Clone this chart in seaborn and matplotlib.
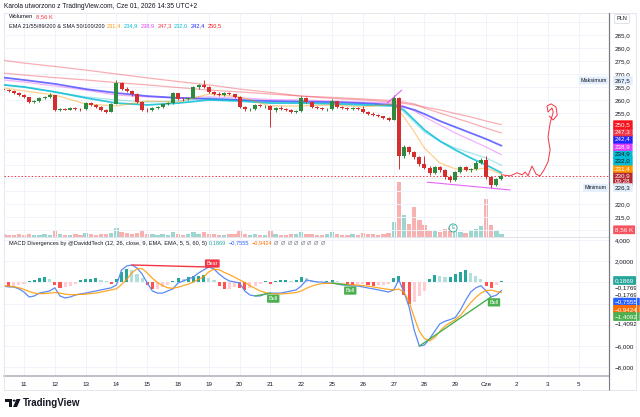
import numpy as np
import matplotlib
matplotlib.use("Agg")
import matplotlib.pyplot as plt
from matplotlib.patches import Polygon, Circle, Rectangle
import seaborn as sns

# ---- values ----
# six bars per session, the first four bars belong to the 10th
opens = [
    264.2, 263.8, 263.5, 262.7,
    261.9, 261.0, 259.2, 259.6, 260.8, 261.2,
    261.9, 256.2, 256.5, 256.3, 256.9, 256.6,
    256.4, 259.0, 258.0, 257.2, 256.0, 255.4,
    258.6, 266.6, 264.4, 263.4, 262.2, 259.3,
    256.2, 256.0, 256.9, 257.3, 258.6, 258.8,
    262.5, 260.5, 260.2, 260.9, 265.0, 265.6,
    265.0, 263.1, 262.3, 262.0, 262.6, 262.2,
    261.2, 257.3, 256.4, 256.6, 258.0, 257.6,
    257.8, 256.0, 256.9, 256.5, 256.0, 255.5,
    255.6, 260.8, 259.2, 257.3, 257.0, 256.4,
    256.5, 259.6, 257.3, 257.0, 256.5, 256.8,
    256.4, 255.4, 254.8, 254.3, 253.7, 253.1,
    252.4, 260.8, 238.5, 241.8, 240.0, 238.0,
    235.2, 234.0, 231.8, 234.2, 233.0, 230.4,
    229.4, 232.2, 234.2, 233.2, 233.6, 235.8,
    236.9, 230.2, 227.4, 229.6,
]
highs = [
    264.8, 264.3, 263.8, 263.0,
    262.2, 261.3, 260.0, 261.2, 261.6, 262.5,
    262.0, 256.9, 257.0, 257.2, 257.3, 257.0,
    259.4, 259.3, 258.4, 257.5, 256.4, 258.9,
    267.6, 267.0, 265.0, 263.8, 262.6, 259.6,
    256.8, 257.2, 257.6, 258.9, 259.2, 262.9,
    262.8, 261.0, 261.3, 265.4, 266.0, 267.5,
    265.3, 263.5, 262.9, 262.9, 263.0, 262.4,
    261.4, 257.6, 257.0, 258.4, 258.6, 258.2,
    258.0, 257.3, 257.5, 257.0, 256.4, 256.0,
    261.4, 261.0, 259.5, 257.8, 257.4, 256.9,
    260.3, 259.8, 257.8, 257.4, 257.2, 257.2,
    257.6, 255.8, 255.3, 254.8, 254.0, 253.4,
    261.9, 261.2, 242.5, 242.4, 240.5, 238.4,
    238.4, 234.5, 234.6, 234.8, 233.4, 231.0,
    232.6, 234.6, 234.8, 234.0, 236.4, 237.8,
    238.4, 230.6, 230.0, 231.6,
]
lows = [
    263.4, 263.0, 262.3, 261.5,
    260.6, 258.8, 258.7, 259.3, 260.2, 260.9,
    255.8, 255.6, 256.0, 256.0, 256.2, 255.9,
    256.2, 257.6, 256.8, 255.6, 255.0, 255.2,
    258.4, 263.8, 262.9, 261.6, 258.8, 255.8,
    255.4, 255.7, 256.5, 257.0, 258.0, 258.6,
    260.0, 259.8, 259.9, 260.6, 264.3, 264.6,
    262.6, 261.8, 261.6, 261.7, 261.9, 260.8,
    256.9, 255.8, 255.9, 256.3, 257.2, 257.0,
    249.6, 255.5, 256.2, 255.6, 255.0, 254.9,
    255.4, 258.8, 256.9, 256.5, 256.0, 255.9,
    256.3, 256.9, 256.6, 256.1, 256.0, 256.0,
    255.0, 254.4, 253.9, 253.4, 252.8, 252.0,
    252.2, 233.5, 237.8, 239.4, 237.4, 234.6,
    233.5, 231.2, 231.5, 232.4, 229.8, 228.6,
    229.0, 231.8, 232.7, 232.4, 233.2, 235.2,
    229.6, 226.3, 227.0, 229.2,
]
closes = [
    263.8, 263.5, 262.7, 261.9,
    261.0, 259.2, 259.6, 260.8, 261.2, 261.9,
    256.2, 256.5, 256.3, 256.9, 256.6, 256.4,
    259.0, 258.0, 257.2, 256.0, 255.4, 258.6,
    266.6, 264.4, 263.4, 262.2, 259.3, 256.2,
    256.0, 256.9, 257.3, 258.6, 258.8, 262.5,
    260.5, 260.2, 260.9, 265.0, 265.6, 265.0,
    263.1, 262.3, 262.0, 262.6, 262.2, 261.2,
    257.3, 256.4, 256.6, 258.0, 257.6, 257.8,
    256.0, 256.9, 256.5, 256.0, 255.5, 255.6,
    260.8, 259.2, 257.3, 257.0, 256.4, 256.5,
    259.6, 257.3, 257.0, 256.5, 256.8, 256.4,
    255.4, 254.8, 254.3, 253.7, 253.1, 252.4,
    260.8, 238.5, 241.8, 240.0, 238.0, 235.2,
    234.0, 231.8, 234.2, 233.0, 230.4, 229.4,
    232.2, 234.2, 233.2, 233.6, 235.8, 236.9,
    230.2, 227.4, 229.6, 230.9,
]
# volume in thousands
volumes = [
    8.6, 5.7, 5.7, 8.6,
    5.7, 8.6, 5.7, 5.7, 8.6, 5.7,
    17.1, 8.6, 5.7, 5.7, 8.6, 5.7,
    11.4, 8.6, 5.7, 8.6, 8.6, 11.4,
    25.7, 14.3, 11.4, 8.6, 11.4, 17.1,
    8.6, 8.6, 5.7, 8.6, 5.7, 14.3,
    8.6, 5.7, 8.6, 14.3, 8.6, 14.3,
    8.6, 8.6, 5.7, 5.7, 8.6, 8.6,
    17.1, 8.6, 5.7, 8.6, 5.7, 5.7,
    20.0, 8.6, 5.7, 5.7, 8.6, 8.6,
    14.3, 8.6, 8.6, 5.7, 5.7, 8.6,
    14.3, 8.6, 5.7, 5.7, 8.6, 5.7,
    11.4, 8.6, 8.6, 5.7, 8.6, 11.4,
    42.8, 157.0, 62.7, 37.1, 85.5, 48.5,
    34.2, 20.0, 17.1, 14.3, 22.8, 28.5,
    17.1, 14.3, 11.4, 17.1, 22.8, 31.4,
    108.3, 34.2, 20.0, 8.56,
]
macd_line = [
    -0.33, -0.42, -0.42, -0.6,
    -0.9, -1.37, -1.27, -1.0, -0.9, -0.8,
    -0.5, -1.27, -1.46, -1.37, -1.18, -1.08,
    -1.0, -0.9, -0.8, -0.7, -0.6, -0.5,
    -0.24, 1.18, 1.56, 1.65, 1.37, 0.8,
    -0.05, -0.8, -1.0, -1.0, -0.8, -0.6,
    -0.05, 0.14, 0.33, 0.52, 0.9, 1.18,
    1.46, 1.27, 0.8, 0.42, 0.14, 0.05,
    -0.05, -0.8, -1.18, -1.27, -1.27, -1.08,
    -1.0, -1.0, -1.0, -0.9, -0.8, -0.7,
    -0.33, 0.24, 0.14, 0.05, 0.05, -0.05,
    -0.05, -0.14, -0.24, -0.24, -0.33, -0.33,
    -0.42, -0.52, -0.6, -0.7, -0.8, -0.9,
    -0.7, 0.24, -0.9, -2.3, -4.5, -6.0,
    -5.9, -5.3, -4.6, -3.9, -3.65, -3.5,
    -3.3, -2.6, -1.7, -0.9, -0.5, -0.3,
    -0.8, -1.35, -1.2, -0.7555,
]
signal_line = [
    -0.3, -0.35, -0.4, -0.5,
    -0.65, -0.85, -1.0, -1.05, -1.05, -1.0,
    -0.95, -1.0, -1.1, -1.15, -1.15, -1.12,
    -1.1, -1.05, -1.0, -0.9, -0.8, -0.7,
    -0.6, -0.2, 0.3, 0.9, 1.3, 1.3,
    0.9, 0.4, 0.0, -0.3, -0.5, -0.55,
    -0.45, -0.3, -0.15, 0.05, 0.3, 0.55,
    1.0, 1.25, 1.2, 0.95, 0.75, 0.5,
    0.25, 0.0, -0.3, -0.55, -0.8, -0.95,
    -1.05, -1.08, -1.08, -1.05, -1.0, -0.95,
    -0.8, -0.55, -0.35, -0.2, -0.1, -0.08,
    -0.08, -0.1, -0.15, -0.18, -0.22, -0.25,
    -0.3, -0.35, -0.42, -0.5, -0.58, -0.65,
    -0.7, -0.62, -0.9, -1.8, -3.3, -4.6,
    -5.3, -5.5, -5.2, -4.6, -4.1, -3.8,
    -3.5, -3.1, -2.5, -1.9, -1.4, -1.0,
    -0.75, -0.72, -0.85, -0.9424,
]
histogram = [
    -0.2, -0.3, -0.3, -0.2,
    -0.1, 0.1, 0.2, 0.4, 0.5, 0.3,
    -0.2, -0.5, -0.4, -0.3, -0.1, 0.2,
    0.3, 0.3, 0.4, 0.2, 0.1, -0.1,
    0.3, 1.0, 1.3, 1.2, 0.8, 0.4,
    -0.2, -0.6, -0.6, -0.4, -0.2, 0.1,
    0.4, 0.3, 0.5, 0.6, 0.6, 0.7,
    0.4, 0.2, -0.3, -0.6, -0.6, -0.4,
    -0.5, -0.7, -0.5, -0.3, -0.1, 0.1,
    -0.1, 0.1, 0.2, 0.2, 0.1, 0.2,
    0.5, 0.4, 0.2, 0.1, 0.05, 0.1,
    0.2, 0.1, 0.0, -0.1, -0.2, -0.1,
    -0.1, -0.2, -0.3, -0.2, -0.2, -0.1,
    0.4, 0.6, -1.2, -2.0, -1.8, -1.3,
    -0.8, 0.3, 0.7, 0.6, 0.5, 0.5,
    0.8, 1.0, 1.2, 0.9, 0.6, 0.3,
    -0.3, -0.5, -0.2, 0.1869,
]
day_labels = ["11", "12", "13", "14", "15", "18", "19", "20", "21", "22",
              "25", "26", "27", "28", "29", "Cze", "2", "3", "5"]

# moving averages, sampled along the chart (x counted in sessions from the 11th)
ma_days = [-0.65, 0, 1, 2, 3, 4, 5, 6, 7, 8, 9, 10, 11, 12, 12.33, 12.67, 13, 13.5, 14, 14.5, 15, 15.5]
ema21 = [264.6, 263.5, 261.9, 258.5, 257.7, 259.6, 259.2, 262.3, 261.2, 257.7, 257.7,
         258.1, 257.3, 258.5, 253.5, 247.7, 241.5, 235.8, 233.5, 233.1, 233.9, 231.4]
ema55 = [265.8, 265.0, 263.1, 261.2, 260.0, 259.2, 259.6, 260.8, 260.0, 259.2, 259.2,
         258.8, 258.5, 258.1, 255.4, 251.5, 247.7, 244.2, 241.5, 239.6, 237.7, 234.9]
ema89 = [267.7, 266.9, 265.4, 263.8, 261.9, 261.2, 260.8, 261.2, 260.8, 260.2, 260.0,
         259.6, 259.2, 258.8, 257.7, 255.8, 253.5, 250.4, 247.3, 244.6, 241.9, 238.9]
ema200 = [270.3, 269.6, 268.6, 267.7, 266.7, 265.8, 264.8, 263.8, 263.1, 262.3, 261.5,
          261.0, 260.4, 259.8, 259.2, 258.5, 256.9, 255.0, 253.1, 251.2, 249.2, 247.3]
sma50 = [265.8, 265.0, 263.1, 260.8, 258.8, 258.1, 258.8, 260.0, 259.6, 258.8, 258.8,
         258.5, 258.1, 257.7, 256.2, 252.3, 248.5, 244.2, 240.8, 237.7, 235.0, 232.0]
sma100 = [268.6, 267.7, 266.2, 264.2, 262.7, 261.5, 260.8, 260.4, 260.0, 259.6, 259.4,
          259.2, 258.8, 258.1, 257.3, 256.2, 254.6, 251.9, 249.6, 247.3, 245.0, 242.4]
sma200 = [275.2, 274.2, 272.9, 271.5, 270.0, 268.5, 267.1, 265.8, 264.2, 262.9, 261.5,
          260.6, 260.0, 259.2, 258.7, 258.1, 257.3, 256.2, 254.8, 253.5, 251.9, 250.5]

price_max = 267.5
price_min = 226.3
macd_scale_values = [0.1869, -0.1769, -0.1769, -0.7555, -0.9424, -1.4092, -1.4092]

# divergences found by the indicator, as (start bar, end bar)
bear_divs = [(25, 40)]
bull_divs = [(49, 52), (64, 67), (81, 95)]

# hand-drawn marks on the chart
wedge_top = ([11.79, 12.26], [258.8, 263.8])
wedge_bottom = ([13.08, 15.78], [228.4, 225.4])
sketch_days = [15.52, 15.78, 16.01, 16.17, 16.27, 16.36, 16.49, 16.62, 16.75, 16.88, 17.01,
               17.08, 17.01, 17.08, 17.18, 17.14, 17.01, 16.98, 17.11, 17.27, 17.31, 17.18, 17.05]
sketch_prices = [231.2, 230.8, 232.0, 231.2, 232.3, 230.8, 234.6, 231.5, 230.8, 233.1, 236.2,
                 240.8, 245.8, 251.2, 255.4, 256.9, 255.4, 257.7, 258.5, 257.3, 254.2, 252.3, 253.8]

W, H = 640, 417
TEXT = "#131722"
GRID = "#f0f3fa"
UP, DOWN = "#2e8b3e", "#d32f2f"
AXIS_FONT = 4.5


def fx(x):
    return x / W


def fy(y):
    return 1 - y / H


def num(v, digits=1):
    return f"{v:.{digits}f}".replace(".", ",").replace("-", "\u2212")


def text_run(fig, x, y, parts, size, gap=2.5):
    # place coloured pieces of text one after another
    renderer = fig.canvas.get_renderer()
    for s, color in parts:
        t = fig.text(fx(x), fy(y), s, color=color, fontsize=size, va="center", ha="left")
        x = t.get_window_extent(renderer).x1 + gap


def axis_box(ax, y, s, fc, tc, va="center"):
    ax.text(1.01, y, s, transform=ax.get_yaxis_transform(), ha="left", va=va,
            fontsize=AXIS_FONT, color=tc, clip_on=False, zorder=10, linespacing=1.25,
            bbox=dict(boxstyle="round,pad=0.3,rounding_size=0.12", fc=fc, ec="none"))


def draw_price(ax, axv, x):
    o, h, l, c = map(np.array, (opens, highs, lows, closes))
    colors = np.where(c >= o, UP, DOWN)
    vol_colors = np.where(c >= o, "#26a69a", "#ef5350")
    axv.bar(x, volumes, width=0.14, color=vol_colors, alpha=0.45, linewidth=0)

    ma_styles = [
        (sma200, "#f23645", 0.9, 0.4), (ema200, "#f23645", 0.9, 0.4),
        (ema89, "#e040fb", 0.9, 0.4), (ema55, "#00bcd4", 0.9, 0.35),
        (sma100, "#3f3fff", 1.3, 0.75), (sma50, "#00bcd4", 1.3, 0.8),
        (ema21, "#ff9800", 0.9, 0.45),
    ]
    for vals, col, lw, a in ma_styles:
        sns.lineplot(x=ma_days, y=vals, ax=ax, color=col, lw=lw, alpha=a,
                     sort=False, estimator=None, legend=False, zorder=2)

    ax.vlines(x, l, h, colors=colors, lw=0.7, zorder=3)
    body = np.maximum(np.abs(c - o), 0.2)
    ax.bar(x, body, bottom=np.minimum(o, c), width=0.13, color=colors, linewidth=0, zorder=4)

    ax.axhline(c[-1], color="#f23645", lw=0.7, ls=(0, (1.5, 2)), zorder=2)
    ax.plot(*wedge_top, color="#e040fb", lw=0.8, alpha=0.8, zorder=5)
    ax.plot(*wedge_bottom, color="#e040fb", lw=0.8, alpha=0.8, zorder=5)
    sns.lineplot(x=sketch_days, y=sketch_prices, ax=ax, color="#f23645", lw=0.7,
                 sort=False, estimator=None, legend=False, zorder=5)
    ax.text(13.93, 210.8, "E", fontsize=3.6, color="#26a69a", ha="center", va="center", zorder=6,
            bbox=dict(boxstyle="circle,pad=0.3", fc="white", ec="#26a69a", lw=0.6))

    # price scale on the right
    ticks = np.arange(210, 295, 5)
    shown = {215, 220, 255, 260, 265, 270, 275, 280, 285}
    ax.set_yticks(ticks)
    ax.set_yticklabels([num(t) if t in shown else "" for t in ticks])

    axis_box(ax, c[-1] + 1.0, num(c[-1]) + "\n09:28", "#b22833", "white", va="top")
    ma_last = sorted([
        (ema21[-1], "#ff9800", "white"), (sma50[-1], "#00bcd4", TEXT),
        (ema55[-1], "#00bcd4", TEXT), (ema89[-1], "#e040fb", "white"),
        (sma100[-1], "#2424ff", "white"), (ema200[-1], "#f23645", "white"),
        (sma200[-1], "#f7141c", "white"),
    ])
    prev = c[-1]
    for v, fc, tc in ma_last:
        pos = max(v, prev + 2.8)
        axis_box(ax, pos, num(v), fc, tc)
        prev = pos

    for v, label in [(price_max, "Maksimum"), (price_min, "Minimum")]:
        axis_box(ax, v, num(v), "#e3eefc", TEXT)
        ax.text(0.996, v, label, transform=ax.get_yaxis_transform(), ha="right", va="center",
                fontsize=3.9, color=TEXT, zorder=10,
                bbox=dict(boxstyle="round,pad=0.25,rounding_size=0.12", fc="#e3eefc", ec="none"))
    axis_box(axv, volumes[-1] + 12, num(volumes[-1], 2) + " K", "#f7525f", "white")


def draw_macd(axm, x):
    hist = np.array(histogram)
    prev = np.r_[hist[0], hist[:-1]]
    hcol = np.where(hist >= 0, np.where(hist >= prev, "#26a69a", "#b2dfdb"),
                    np.where(hist < prev, "#ff5252", "#ffcdd2"))
    axm.bar(x, hist, width=0.1, color=hcol, linewidth=0, zorder=2)
    sns.lineplot(x=x, y=macd_line, ax=axm, color="#5b8af5", lw=0.9, sort=False,
                 estimator=None, legend=False, zorder=3)
    sns.lineplot(x=x, y=signal_line, ax=axm, color="#ff9800", lw=0.9, alpha=0.85, sort=False,
                 estimator=None, legend=False, zorder=3)

    for i, j in bear_divs:
        axm.plot([x[i], x[j]], [macd_line[i], macd_line[j]], color="#f23645", lw=1.0, zorder=4)
        axm.annotate("Bear", (x[j], macd_line[j]), xytext=(2.5, 2.5), textcoords="offset points",
                     ha="center", va="center", fontsize=3.9, color="white", zorder=6,
                     bbox=dict(boxstyle="round,pad=0.3,rounding_size=0.15", fc="#f23645", ec="none"))
    for i, j in bull_divs:
        axm.plot([x[i], x[j]], [macd_line[i], macd_line[j]], color="#4caf50", lw=1.0, zorder=4)
        axm.annotate("Bull", (x[j], macd_line[j]), xytext=(2, -4), textcoords="offset points",
                     ha="center", va="center", fontsize=3.9, color="white", zorder=6,
                     bbox=dict(boxstyle="round,pad=0.3,rounding_size=0.15", fc="#4caf50", ec="none"))

    ticks = np.arange(-8, 5, 2)
    names = {4: "4,000", 2: "2,0000", -6: "\u22126,000", -8: "\u22128,000"}
    axm.set_yticks(ticks)
    axm.set_yticklabels([names.get(int(t), "") for t in ticks])

    styles = [("#26a69a", "white"), (None, TEXT), (None, TEXT), ("#2962ff", "white"),
              ("#ff6d00", "white"), ("#4caf50", "white"), (None, TEXT)]
    prev = None
    for v, (fc, tc) in zip(macd_scale_values, styles):
        pos = v if prev is None else min(v, prev - 0.68)
        if fc is None:
            axm.text(1.01, pos, num(v, 4), transform=axm.get_yaxis_transform(), ha="left",
                     va="center", fontsize=AXIS_FONT, color=tc, clip_on=False)
        else:
            axis_box(axm, pos, num(v, 4), fc, tc)
        prev = pos


def main():
    sns.set_theme(style="white")
    plt.rcParams["font.family"] = ["Liberation Sans", "DejaVu Sans"]

    fig = plt.figure(figsize=(6.4, 4.17), dpi=100)
    x0, x1, top, mid, bot = 4, 609, 13, 237, 376
    ax = fig.add_axes([fx(x0), fy(mid), (x1 - x0) / W, (mid - top) / H])
    axv = ax.twinx()
    axm = fig.add_axes([fx(x0), fy(bot), (x1 - x0) / W, (bot - mid) / H], sharex=ax)
    ax.set_zorder(axv.get_zorder() + 1)
    ax.patch.set_visible(False)

    x = (np.arange(len(closes)) - 4) / 6.0
    ax.set_xlim(-0.65, 18.99)
    ax.set_ylim(207.3, 293.46)
    axv.set_ylim(0, 640)
    axm.set_ylim(-8.82, 4.29)

    draw_price(ax, axv, x)
    draw_macd(axm, x)

    for a in (ax, axm):
        a.set_xticks(range(len(day_labels)))
        a.grid(True, color=GRID, lw=0.7)
        a.set_axisbelow(True)
        a.yaxis.tick_right()
        a.tick_params(axis="y", length=0, labelsize=AXIS_FONT, labelcolor=TEXT, pad=4)
        a.set_xlabel("")
        a.set_ylabel("")
        for s in ("top", "left", "bottom"):
            a.spines[s].set_visible(False)
        a.spines["right"].set_color("#787b86")
        a.spines["right"].set_linewidth(0.8)
    axv.set_yticks([])
    axv.set_ylabel("")
    for s in axv.spines.values():
        s.set_visible(False)
    ax.tick_params(axis="x", labelbottom=False, length=0)
    axm.set_xticklabels(day_labels)
    axm.tick_params(axis="x", length=0, labelsize=AXIS_FONT, labelcolor=TEXT, pad=4)
    axm.spines["top"].set_visible(True)
    axm.spines["top"].set_color("#e0e3eb")
    axm.spines["top"].set_linewidth(0.8)
    axm.spines["bottom"].set_visible(True)
    axm.spines["bottom"].set_color("#b2b5be")
    axm.spines["bottom"].set_linewidth(1.2)

    # frame, header and legends
    fig.add_artist(Rectangle((fx(4), fy(390)), (636 - 4) / W, (390 - 13) / H,
                             transform=fig.transFigure, fill=False, ec="#e0e3eb", lw=0.6))
    fig.add_artist(Rectangle((fx(609), fy(390)), 0, (390 - 13) / H, transform=fig.transFigure,
                             fill=False, ec="#787b86", lw=0.8))
    fig.text(fx(4), fy(7), "Karola utworzono z TradingView.com, Cze 01, 2026 14:35 UTC+2",
             fontsize=4.8, color=TEXT, va="center")
    fig.text(fx(622), fy(19), "PLN", fontsize=4.0, color=TEXT, ha="center", va="center",
             bbox=dict(boxstyle="round,pad=0.35,rounding_size=0.15", fc="white", ec="#d1d4dc", lw=0.5))

    text_run(fig, 9, 17, [("Wolumen", TEXT), (num(volumes[-1], 2) + " K", "#f23645")], 4.2)
    text_run(fig, 9, 26, [("EMA 21/55/89/200 & SMA 50/100/200", TEXT),
                          (num(ema21[-1]), "#ff9800"), (num(ema55[-1]), "#00bcd4"),
                          (num(ema89[-1]), "#e040fb"), (num(ema200[-1]), "#f23645"),
                          (num(sma50[-1]), "#00bcd4"), (num(sma100[-1]), "#2424ff"),
                          (num(sma200[-1]), "#f7141c")], 4.1)
    text_run(fig, 9, 243, [("MACD Divergences by @DaviddTech (12, 26, close, 9, EMA, EMA, 5, 5, 60, 5)", TEXT),
                           (num(histogram[-1], 4), "#26a69a"), (num(macd_line[-1], 4), "#2962ff"),
                           (num(signal_line[-1], 4), "#ff6d00")] + [("\u00d8", "#787b86")] * 8, 4.1, gap=2.2)

    # TradingView mark
    fig.add_artist(Polygon([(fx(5), fy(399)), (fx(12), fy(399)), (fx(12), fy(407)),
                            (fx(9), fy(407)), (fx(9), fy(402)), (fx(5), fy(402))],
                           closed=True, transform=fig.transFigure, fc="#131722", ec="none"))
    fig.add_artist(Circle((fx(14.2), fy(400.6)), 1.5 / W, transform=fig.transFigure,
                          fc="#131722", ec="none"))
    fig.add_artist(Polygon([(fx(16.5), fy(399)), (fx(20.5), fy(399)), (fx(17), fy(407)),
                            (fx(13), fy(407))], closed=True, transform=fig.transFigure,
                           fc="#131722", ec="none"))
    fig.text(fx(23), fy(403), "TradingView", fontsize=7, fontweight="bold", color=TEXT, va="center")

    fig.savefig("out.png", dpi=100, facecolor="white")


if __name__ == "__main__":
    main()
